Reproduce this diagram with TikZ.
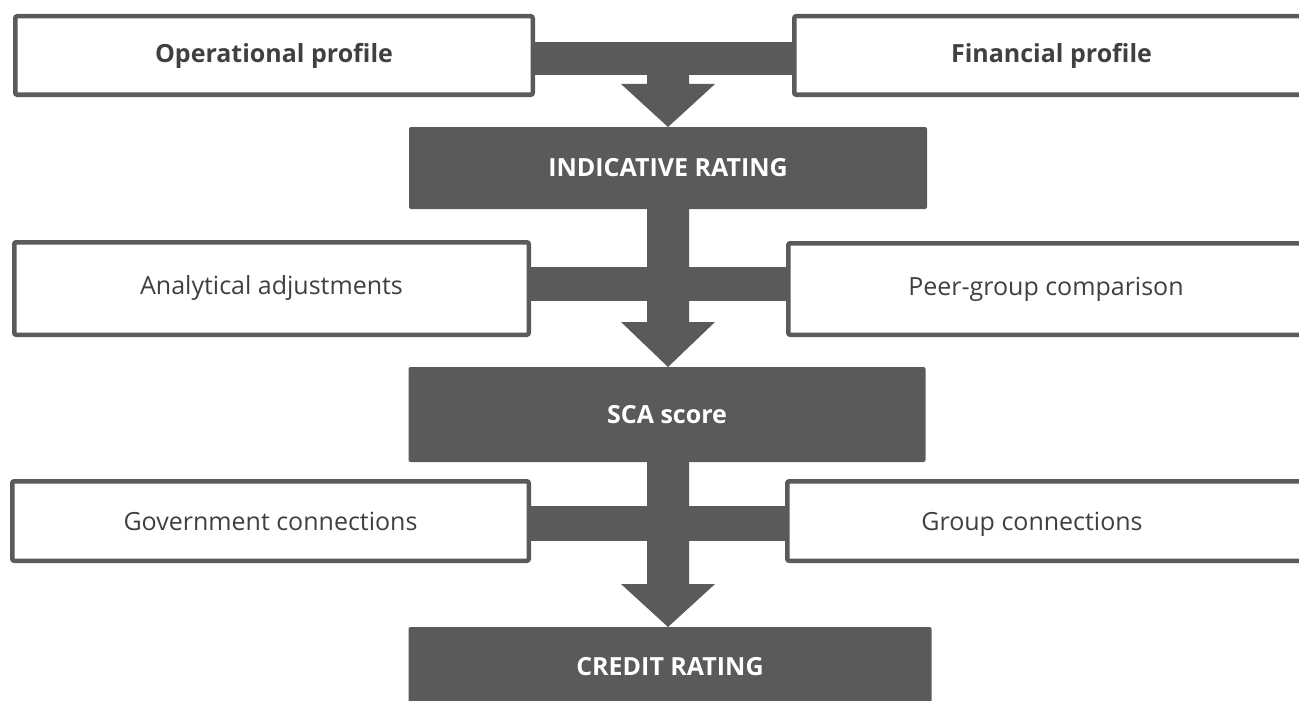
\documentclass[tikz,border=0pt]{standalone}
\usepackage{fontspec}
\setmainfont{Open Sans}
\usetikzlibrary{calc,backgrounds}
\definecolor{dk}{HTML}{5A5A5A}
\definecolor{tx}{HTML}{404040}
\begin{document}
\begin{tikzpicture}[x=1pt,y=-1pt,
  wbox/.style={draw=dk, line width=4.5pt, fill=white, rounded corners=2pt, text=tx,
    font=\fontsize{25}{30}\selectfont, inner sep=0pt},
  wboxb/.style={wbox, font=\fontsize{25}{30}\selectfont\bfseries},
  dbox/.style={fill=dk, rounded corners=2pt, text=white,
    font=\fontsize{25}{30}\selectfont\bfseries, inner sep=0pt},
  conn/.style={fill=dk}
]
\useasboundingbox (0,0) rectangle (1299,701);

% row 1
\node[wboxb, minimum width=517.5pt, minimum height=78.5pt] (L1) at (274,55.5) {Operational profile};
\node[wboxb, minimum width=514.5pt, minimum height=78.5pt] (R1) at (1051.5,55.5) {Financial profile};
\node[dbox, minimum width=518pt, minimum height=82pt] (D1) at (668,168) {INDICATIVE RATING};

% row 2
\node[wbox, minimum width=514.5pt, minimum height=92.5pt] (L2) at (271.5,288.5) {Analytical adjustments};
\node[wbox, minimum width=515.5pt, minimum height=91.5pt] (R2) at (1046,289) {Peer-group comparison};
\node[dbox, minimum width=517pt, minimum height=95pt] (D2) at (667,414.5) {SCA score};

% row 3
\node[wbox, minimum width=516.5pt, minimum height=79.5pt] (L3) at (270.5,521) {Government connections};
\node[wbox, minimum width=515.5pt, minimum height=79.5pt] (R3) at (1045,521) {};
\node[text=tx, font=\fontsize{25}{30}\selectfont, inner sep=0pt, anchor=base] (R3t) at (L3.base -| 1032,0) {Group connections};
\node[dbox, minimum width=523pt, minimum height=80pt] (D3) at (670,667) {CREDIT RATING};

\begin{scope}[on background layer]
  % level 1: bar between profiles, arrow into indicative rating
  \fill[conn] (L1.center |- 0,42) rectangle (R1.center |- 0,75);
  \coordinate (t1) at (668,127);
  \fill[conn] ($(t1)+(-21,-60)$) -- ($(t1)+(-21,-43)$) -- ($(t1)+(-47,-43)$) -- (t1)
    -- ($(t1)+(47,-43)$) -- ($(t1)+(21,-43)$) -- ($(t1)+(21,-60)$) -- cycle;
  % level 2
  \fill[conn] (L2.center |- 0,267) rectangle (R2.center |- 0,301);
  \coordinate (t2) at (668,367);
  \fill[conn] (D1.center -| 647,0) -- ($(t2)+(-21,-45)$) -- ($(t2)+(-47,-45)$) -- (t2)
    -- ($(t2)+(47,-45)$) -- ($(t2)+(21,-45)$) -- (D1.center -| 689,0) -- cycle;
  % level 3
  \fill[conn] (L3.center |- 0,506) rectangle (R3.center |- 0,541);
  \coordinate (t3) at (668,627);
  \fill[conn] (D2.center -| 647,0) -- ($(t3)+(-21,-43)$) -- ($(t3)+(-47,-43)$) -- (t3)
    -- ($(t3)+(47,-43)$) -- ($(t3)+(21,-43)$) -- (D2.center -| 689,0) -- cycle;
\end{scope}
\end{tikzpicture}
\end{document}
